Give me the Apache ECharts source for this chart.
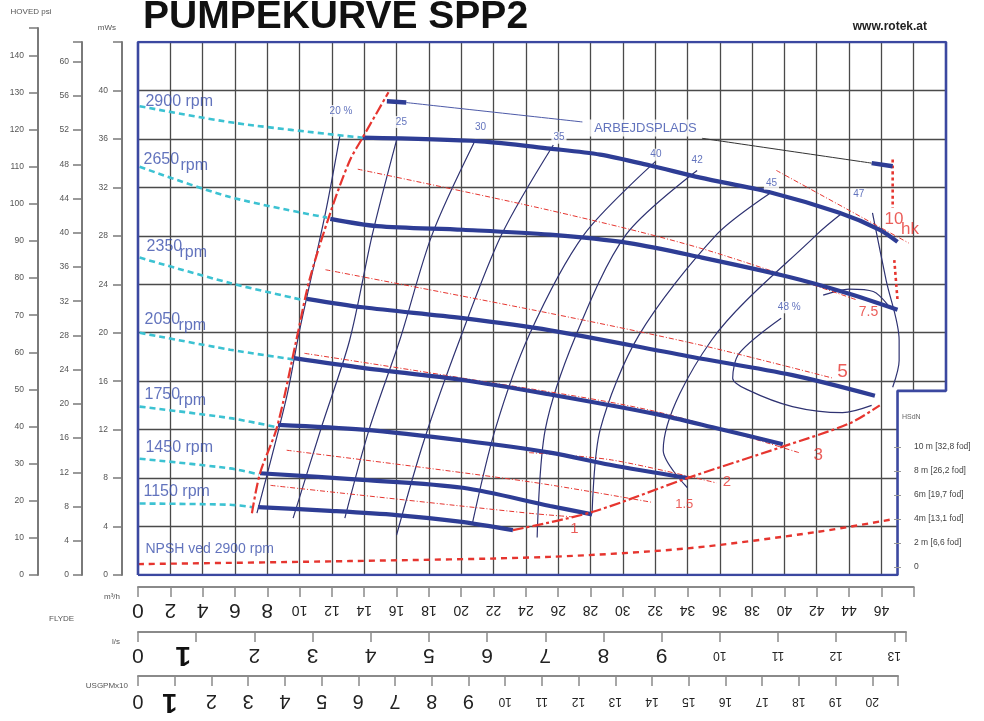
<!DOCTYPE html>
<html>
<head>
<meta charset="utf-8">
<script src="https://cdn.jsdelivr.net/npm/echarts@6/dist/echarts.min.js"></script>
<style>
html,body{margin:0;padding:0;background:#fff}
#chart{width:984px;height:721px}
</style>
</head>
<body>
<div id="chart"></div>
<script>
// pump curves, [flow m3/h, head mWs]
const curve2900 = [[13.9,36.1],[21.2,35.8],[25.5,35.2],[28.6,34.7],[31.7,33.8],[34.8,32.8],[39.1,31.6],[43.4,29.9],[45.9,28.5],[47.0,27.5]];
const curve2650 = [[11.9,29.4],[14.8,28.8],[20.1,28.5],[25.5,28.1],[30.4,27.4],[34.9,26.2],[40.3,24.6],[43.8,23.3],[47.0,21.9]];
const curve2350 = [[10.45,22.8],[13.9,22.1],[20.1,21.2],[25.5,20.2],[34.3,18.0],[40.5,16.5],[45.6,14.8]];
const curve2050 = [[9.65,17.9],[13.9,17.1],[20.1,16.1],[25.5,14.9],[32.0,13.3],[36.0,12.05],[39.9,10.8]];
const curve1750 = [[8.66,12.4],[13.9,12.0],[20.1,11.1],[25.5,10.1],[29.2,9.1],[34.0,8.0]];
const curve1450 = [[7.55,8.4],[13.9,7.85],[20.1,7.2],[25.5,5.7],[28.1,5.0]];
const curve1150 = [[7.42,5.6],[11.9,5.3],[16.0,4.95],[19.9,4.4],[23.2,3.7]];

// dashed extensions to zero flow
const ext2900 = [[0.1,38.7],[6.1,37.3],[13.9,36.1]];
const ext2650 = [[0.1,33.7],[5.7,31.2],[11.7,29.5]];
const ext2350 = [[0.1,26.2],[5.7,24.1],[10.2,22.7]];
const ext2050 = [[0.1,20.0],[5.7,18.6],[9.6,17.8]];
const ext1750 = [[0.1,13.9],[5.7,12.95],[8.6,12.2]];
const ext1450 = [[0.1,9.6],[5.7,8.8],[7.5,8.3]];
const ext1150 = [[0.1,5.9],[5.7,5.8],[7.1,5.6]];

// red limits + NPSH
const minFlowLimit = [[7.05,5.1],[7.55,8.4],[8.6,12.2],[9.8,19.4],[10.6,24.3],[11.9,29.9],[13.1,34.2],[13.9,36.1],[15.5,39.85]];
const maxFlowLimit = [[23.2,3.7],[28.1,5.2],[34.0,8.0],[39.9,10.6],[44.0,12.5],[45.9,14.0]];
const npsh2900 = [[0,0.9],[13.1,1.15],[25.5,1.5],[34.0,2.2],[42.0,3.55],[46.7,4.6]];
const limitTop = [[46.7,34.3],[46.7,30.3]];
const limitMid = [[46.8,26.0],[47.0,22.7]];

// power lines (hk)
const hk10 = [[39.5,33.4],[47.7,27.4]];
const hk75 = [[13.6,33.5],[25.5,30.1],[34.75,27.0],[44.5,22.7]];
const hk5 = [[11.6,25.2],[25.5,21.6],[34.75,19.0],[43.0,16.25]];
const hk3 = [[10.3,18.3],[20.1,16.25],[31.7,13.6],[40.9,10.1]];
const hk2 = [[24.2,10.1],[29.3,9.5],[35.8,7.6]];
const hk15 = [[9.2,10.3],[24.2,7.7],[31.8,6.0]];
const hk1 = [[8.2,7.4],[24.2,5.1],[26.9,4.8]];

// efficiency lines (%)
const eff20 = [[12.5,36.3],[11.6,29.9],[10.0,20.2],[9.2,14.7],[7.36,5.1]];
const eff25 = [[16.0,35.9],[14.5,28.1],[13.1,19.4],[11.4,12.4],[9.6,4.7]];
const eff30 = [[20.8,35.7],[18.2,28.1],[16.2,19.4],[14.3,12.0],[12.8,4.7]];
const eff35 = [[25.7,35.5],[22.5,28.1],[19.9,19.4],[17.7,11.1],[16.0,3.3]];
const eff40 = [[32.0,34.1],[27.6,28.1],[24.2,19.8],[22.1,12.0],[20.7,4.3]];
const eff42 = [[34.6,33.4],[30.2,28.1],[27.1,19.8],[25.2,12.0],[24.7,3.1]];
const eff45 = [[39.2,31.6],[35.8,28.1],[31.0,19.8],[28.6,12.0],[28.1,5.1]];
const eff47 = [[43.6,29.9],[42.0,28.1],[35.5,19.4],[32.5,10.3],[34.0,7.2]];
const eff47Right = [[45.45,29.9],[46.3,24.3],[47.1,19.4],[47.1,17.7],[46.7,15.5]];
const eff48 = [[39.8,21.2],[37.2,18.3],[36.8,16.25],[37.7,15.3],[40.5,13.9],[43.6,13.4],[45.4,14.0]];
const eff48Top = [[42.4,23.1],[44.0,23.6],[45.5,23.4],[46.4,22.3]];

// working point marks
const workTop = [[15.4,39.1],[16.6,39.0]];
const workRight = [[45.4,34.0],[46.7,33.75]];
const workTopLink = [[16.6,39.0],[27.5,37.4]];
const workRightLink = [[34.9,36.05],[45.4,34.0]];

// frame of the diagram (with cut corner)
const frame = [[0,0],[0,44],[50,44],[50,15.2],[47,15.2],[47,0],[0,0]];
const cutCorner = [[47,15.2],[50,15.2]];

// texts in the plot: [text, flow, head]
const rpmTexts = [['2900 rpm',0.43,39.1],['2650',0.31,34.3],['2350',0.5,27.1],['2050',0.37,21.1],['1750',0.37,14.9],['1450 rpm',0.43,10.5],['1150 rpm',0.31,6.9]];
const rpmSubTexts = [['rpm',2.6,33.8],['rpm',2.54,26.6],['rpm',2.48,20.6],['rpm',2.48,14.4]];
const npshText = [['NPSH ved 2900 rpm',0.43,2.15]];
const effTexts = [['20 %',12.56,38.3],['25',16.3,37.4],['30',21.2,37.0],['35',26.05,36.1],['40',32.05,34.7],['42',34.6,34.2],['45',39.2,32.3],['47',44.6,31.4],['48 %',40.3,22.1]];
const workText = [['ARBEJDSPLADS',31.4,36.9]];
const hkTexts = [['10',46.78,29.4,17],['hk',47.77,28.55,17],['7.5',45.2,21.7,14],['5',43.6,16.75,19],['3',42.1,9.9,17],['2',36.45,7.65,15],['1.5',33.8,5.85,13],['1',27.0,3.8,15]];
const hsdnTicks = ['0','2 m [6,6 fod]','4m [13,1 fod]','6m [19,7 fod]','8 m [26,2 fod]','10 m [32,8 fod]'];

const BLUE = '#2e3d95';
const THIN = '#2f3372';
const CYAN = '#3cc2d2';
const RED = '#e6352f';
const TXT = '#3b50ad';

const chart = echarts.init(document.getElementById('chart'), null, {renderer:'canvas'});

function line(data, color, width, type, z) {
  return {type:'line', data:data, xAxisIndex:0, yAxisIndex:0, symbol:'none', smooth:0.3,
    lineStyle:{color:color, width:width, type:type || 'solid'}, z:z || 3, silent:true, animation:false};
}
function texts(list, label, z) {
  return {type:'scatter', xAxisIndex:0, yAxisIndex:0, symbolSize:1, itemStyle:{color:'transparent'},
    data:list.map(t => ({name:t[0], value:[t[1], t[2]], label: t[3] ? {fontSize:t[3]} : undefined})),
    label:Object.assign({show:true, formatter:p => p.name}, label), z:z || 20, silent:true, animation:false};
}
function flipFormatter(bigUpTo, oneShift) {
  return function(v) {
    if (Math.abs(v - Math.round(v)) > 1e-6) return '';
    if (v === 1 && oneShift) return '{one|1}';
    return v <= bigUpTo ? '{b|' + v + '}' : '{s|' + v + '}';
  };
}
const hiddenAxis = {show:false};
const sideAxis = (extra) => Object.assign({
  type:'value', position:'left',
  axisLine:{show:true, lineStyle:{color:'#7a7a7a', width:2}},
  axisTick:{show:true, length:9, lineStyle:{color:'#7a7a7a', width:1.5}},
  splitLine:{show:false},
  axisLabel:{color:'#555', fontSize:8.5, fontFamily:'Liberation Sans', margin:14, hideOverlap:false}
}, extra);
const bottomAxis = (extra) => Object.assign({
  type:'value', position:'bottom',
  axisLine:{show:true, lineStyle:{color:'#8a8a8a', width:2}},
  axisTick:{show:true, length:10, lineStyle:{color:'#8a8a8a', width:1.5}},
  splitLine:{show:false},
  nameLocation:'start',
  nameTextStyle:{color:'#555', fontSize:8, fontFamily:'Liberation Sans', verticalAlign:'top', align:'right', padding:[6,0,0,0]}
}, extra);
const gridLines = {show:true, showMinLine:false, showMaxLine:false, lineStyle:{color:'#4a4a4a', width:1.3}};

const option = {
  backgroundColor:'#fff',
  animation:false,
  title:[
    {text:'PUMPEKURVE SPP2', left:138, top:-7, textStyle:{fontSize:39, fontWeight:'bold', color:'#111', fontFamily:'Liberation Sans'}},
    {text:'www.rotek.at', right:52, top:16, textStyle:{fontSize:12, fontWeight:'bold', color:'#222', fontFamily:'Liberation Sans'}},
    {text:'FLYDE', left:44, top:610, textStyle:{fontSize:8, fontWeight:'normal', color:'#555', fontFamily:'Liberation Sans'}}
  ],
  grid:[
    {left:138, right:38, top:42, bottom:146, outerBoundsMode:'none'},
    {left:138, width:775.7, top:580, bottom:134, outerBoundsMode:'none'},
    {left:138, width:768, top:625, bottom:89, outerBoundsMode:'none'},
    {left:138, width:760, top:669, bottom:45, outerBoundsMode:'none'},
    {left:82, width:1, top:42, bottom:146, outerBoundsMode:'none'},
    {left:38, width:1, top:28, bottom:146, outerBoundsMode:'none'},
    {left:894, width:10, top:447, bottom:154, outerBoundsMode:'none'}
  ],
  xAxis:[
    {gridIndex:0, type:'value', min:0, max:50, interval:2, axisLine:{show:false}, axisTick:{show:false}, axisLabel:{show:false},
      splitLine:gridLines},
    bottomAxis({gridIndex:1, min:0, max:48, interval:2, name:'m³/h', nameGap:18,
      axisLabel:{rotate:180, margin:11, formatter:v => v > 46 ? '' : flipFormatter(8)(v),
        rich:{b:{fontSize:21, lineHeight:24, color:'#222', fontFamily:'Liberation Sans'}, s:{fontSize:14, lineHeight:24, color:'#222', fontFamily:'Liberation Sans'}}}}),
    bottomAxis({gridIndex:2, min:0, max:13.2, interval:1, name:'l/s', nameGap:18,
      axisLabel:{rotate:180, margin:11, formatter:flipFormatter(9, true),
        rich:{b:{fontSize:21, lineHeight:24, color:'#222', fontFamily:'Liberation Sans'}, s:{fontSize:12, lineHeight:24, color:'#222', fontFamily:'Liberation Sans'},
          one:{fontSize:28, fontWeight:'bold', lineHeight:24, color:'#111', fontFamily:'Liberation Sans', padding:[0,0,0,26]}}}}),
    bottomAxis({gridIndex:3, min:0, max:20.7, interval:1, name:'USGPMx10', nameGap:10,
      axisLabel:{rotate:180, margin:13, formatter:flipFormatter(9, true),
        rich:{b:{fontSize:20, lineHeight:24, color:'#222', fontFamily:'Liberation Sans'}, s:{fontSize:12, lineHeight:24, color:'#222', fontFamily:'Liberation Sans'},
          one:{fontSize:27, fontWeight:'bold', lineHeight:24, color:'#111', fontFamily:'Liberation Sans', padding:[0,0,0,10]}}}}),
    Object.assign({gridIndex:4, type:'value', min:0, max:1}, hiddenAxis),
    Object.assign({gridIndex:5, type:'value', min:0, max:1}, hiddenAxis),
    Object.assign({gridIndex:6, type:'value', min:0, max:1}, hiddenAxis)
  ],
  yAxis:[
    {gridIndex:0, type:'value', min:0, max:44, interval:4, axisLine:{show:false}, axisTick:{show:false}, axisLabel:{show:false},
      splitLine:gridLines},
    sideAxis({gridIndex:0, offset:16, min:0, max:44, interval:4, name:'mWs', nameGap:10,
      nameTextStyle:{color:'#555', fontSize:8, fontFamily:'Liberation Sans', align:'right', padding:[0,6,0,0]},
      axisLabel:{color:'#555', fontSize:8.5, fontFamily:'Liberation Sans', margin:14, formatter:v => v > 40 ? '' : v}}),
    Object.assign({gridIndex:1, type:'value', min:0, max:1}, hiddenAxis),
    Object.assign({gridIndex:2, type:'value', min:0, max:1}, hiddenAxis),
    Object.assign({gridIndex:3, type:'value', min:0, max:1}, hiddenAxis),
    sideAxis({gridIndex:4, min:0, max:62.3, interval:4,
      axisLabel:{color:'#555', fontSize:8.5, fontFamily:'Liberation Sans', margin:13, formatter:v => v > 60 ? '' : v}}),
    sideAxis({gridIndex:5, min:0, max:147.4, interval:10, name:'HOVED psi', nameGap:12,
      nameTextStyle:{color:'#555', fontSize:8, fontFamily:'Liberation Sans', align:'center', padding:[0,14,0,0]},
      axisLabel:{color:'#555', fontSize:8.5, fontFamily:'Liberation Sans', margin:14, formatter:v => v > 140 ? '' : v}}),
    {gridIndex:6, type:'value', position:'right', min:0, max:10, interval:2, z:30,
      name:'HSdN', nameGap:26, nameTextStyle:{color:'#666', fontSize:7, fontFamily:'Liberation Sans', align:'left', padding:[0,0,0,8]},
      axisLine:{show:false}, axisTick:{show:true, length:7, lineStyle:{color:'#999', width:1}}, splitLine:{show:false},
      axisLabel:{color:'#444', fontSize:8.5, fontFamily:'Liberation Sans', margin:10, formatter:v => hsdnTicks[Math.round(v / 2)]}}
  ],
  series:[
    // white cut corner of the frame
    {type:'line', data:cutCorner, xAxisIndex:0, yAxisIndex:0, symbol:'none', lineStyle:{width:0},
      areaStyle:{color:'#fff', opacity:1}, z:1, silent:true},
    line(frame, '#3b48a0', 2.6, 'solid', 10),
    // efficiency lines
    line(eff20, THIN, 1.2), line(eff25, THIN, 1.2), line(eff30, THIN, 1.2), line(eff35, THIN, 1.2),
    line(eff40, THIN, 1.2), line(eff42, THIN, 1.2), line(eff45, THIN, 1.2), line(eff47, THIN, 1.2),
    line(eff47Right, THIN, 1.2), line(eff48, THIN, 1.2), line(eff48Top, THIN, 1.2),
    // power lines
    line(hk10, RED, 1, [5,2,1,2]), line(hk75, RED, 1, [5,2,1,2]), line(hk5, RED, 1, [5,2,1,2]),
    line(hk3, RED, 1, [5,2,1,2]), line(hk2, RED, 1, [5,2,1,2]), line(hk15, RED, 1, [5,2,1,2]), line(hk1, RED, 1, [5,2,1,2]),
    // cyan extensions
    line(ext2900, CYAN, 2.6, [6,4]), line(ext2650, CYAN, 2.6, [6,4]), line(ext2350, CYAN, 2.6, [6,4]),
    line(ext2050, CYAN, 2.6, [6,4]), line(ext1750, CYAN, 2.6, [6,4]), line(ext1450, CYAN, 2.6, [6,4]), line(ext1150, CYAN, 2.6, [6,4]),
    // pump curves
    line(curve2900, BLUE, 4.2, 'solid', 5), line(curve2650, BLUE, 4.2, 'solid', 5), line(curve2350, BLUE, 4.2, 'solid', 5),
    line(curve2050, BLUE, 4.2, 'solid', 5), line(curve1750, BLUE, 4.2, 'solid', 5), line(curve1450, BLUE, 4.2, 'solid', 5),
    line(curve1150, BLUE, 4.2, 'solid', 5),
    // red limits
    line(minFlowLimit, RED, 2.2, [11,3,3,3], 6), line(maxFlowLimit, RED, 2.2, [11,3,3,3], 6),
    line(npsh2900, RED, 2.4, [6,5], 6), line(limitTop, RED, 2.6, [3,3], 6), line(limitMid, RED, 2.6, [3,3], 6),
    // working point
    line(workTop, BLUE, 4.5, 'solid', 6), line(workRight, BLUE, 4.5, 'solid', 6),
    line(workTopLink, '#4d5aa8', 1, 'solid', 4), line(workRightLink, '#333', 1, 'solid', 4),
    // texts
    texts(rpmTexts, {position:'right', distance:0, color:TXT, fontSize:16, fontFamily:'Liberation Sans'}),
    texts(rpmSubTexts, {position:'right', distance:0, color:TXT, fontSize:16, fontFamily:'Liberation Sans'}),
    texts(npshText, {position:'right', distance:0, color:TXT, fontSize:14, fontFamily:'Liberation Sans'}),
    texts(effTexts, {position:'inside', color:TXT, fontSize:10, fontFamily:'Liberation Sans', backgroundColor:'#fff', padding:[1,2]}),
    texts(workText, {position:'inside', color:TXT, fontSize:13, fontFamily:'Liberation Sans', backgroundColor:'#fff', padding:[2,5]}),
    texts(hkTexts, {position:'inside', color:RED, fontSize:15, fontFamily:'Liberation Sans'})
  ]
};
chart.setOption(option);
</script>
</body>
</html>
